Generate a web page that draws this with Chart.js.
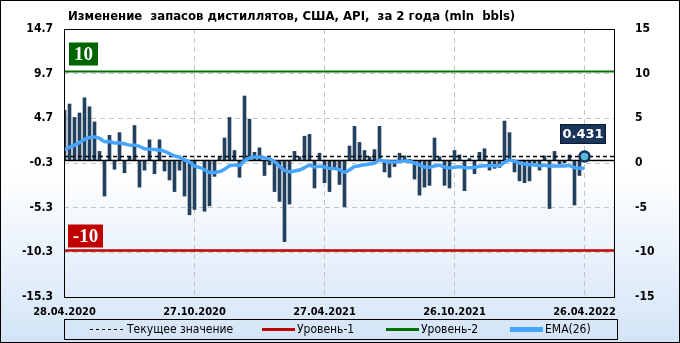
<!DOCTYPE html>
<html>
<head>
<meta charset="utf-8">
<script src="https://cdn.jsdelivr.net/npm/chart.js@4.4.1/dist/chart.umd.min.js"></script>
<style>
	html, body { margin: 0; padding: 0; background: #fff; }
</style>
</head>
<body>
<canvas id="distillates-chart" width="680" height="343"></canvas>
<script>
const titleText = 'Изменение  запасов дистиллятов, США, API,  за 2 года (mln  bbls)';

// weekly change, mln bbls, 28.04.2020 .. 26.04.2022
const distillates = [
	5.6, 6.3, 4.8, 5.3, 7.0, 6.0, 4.3, 1.0, -4.0, 2.8,
	-1.0, 3.1, -1.4, 0.4, 3.9, -3.0, -1.1, 2.3, -1.5, 2.3,
	-1.2, -2.2, -3.5, -1.1, -4.0, -6.1, -5.5, 0.0, -5.7, -5.1,
	-1.8, 0.4, 2.5, 4.8, 1.1, -1.9, 7.2, 4.6, 0.9, 1.4,
	-1.7, -0.5, -3.5, -4.6, -9.1, -4.9, 1.0, 0.4, 2.7, 2.9,
	-3.1, 0.8, -2.5, -3.5, -0.9, -2.7, -5.2, 1.6, 3.8, 2.0,
	1.1, 0.4, 1.2, 3.8, -1.3, -1.9, -0.7, 0.8, 0.5, 0.1,
	-2.1, -3.9, -3.0, -2.8, 2.5, 0.4, -2.8, -3.1, 1.1, 0.6,
	-3.4, 0.2, -1.5, 0.9, 1.3, -1.1, -0.9, -0.8, 4.4, 3.1,
	-1.3, -2.3, -2.5, -2.3, -0.3, -1.1, 0.5, -5.4, 1.0, -0.4,
	-0.3, 0.6, -5.0, -1.7, 0.431,
];

const ema26 = [
	1.2, 1.45, 1.7, 2.0, 2.35, 2.55, 2.6, 2.45, 2.1, 2.1,
	1.95, 1.95, 1.85, 1.7, 1.7, 1.55, 1.3, 1.25, 1.2, 1.15,
	1.0, 0.75, 0.5, 0.35, 0.05, -0.2, -0.65, -0.8, -1.05, -1.35,
	-1.35, -1.27, -1.0, -0.63, -0.52, -0.56, -0.07, 0.26, 0.37, 0.37,
	0.26, 0.15, -0.15, -0.67, -1.12, -1.27, -1.19, -1.08, -0.82, -0.56,
	-0.75, -0.67, -0.75, -0.9, -0.93, -1.04, -1.34, -1.08, -0.71, -0.6,
	-0.5, -0.42, -0.3, 0.0, -0.07, -0.19, -0.19, -0.11, -0.07, -0.11,
	-0.3, -0.52, -0.75, -0.78, -0.63, -0.56, -0.75, -0.86, -0.78, -0.71,
	-0.82, -0.82, -0.78, -0.67, -0.6, -0.6, -0.6, -0.6, -0.22, 0.0,
	-0.1, -0.3, -0.41, -0.49, -0.52, -0.6, -0.56, -0.63, -0.63, -0.63,
	-0.63, -0.6, -0.82, -0.9, -0.86,
];

const dateTickIndex = [0, 26, 52, 78, 104];
const dateLabels = ['28.04.2020', '27.10.2020', '27.04.2021', '26.10.2021', '26.04.2022'];

const leftTicks = [14.7, 9.7, 4.7, -0.3, -5.3, -10.3, -15.3];
const rightLabels = ['15', '10', '5', '0', '-5', '-10', '-15'];

const level1 = -10;
const level2 = 10;
const currentValue = distillates[distillates.length - 1];

const legendItems = [
	{ text: 'Текущее значение', color: '#000', width: 1, dash: [3, 3] },
	{ text: 'Уровень-1', color: '#c00000', width: 3, dash: [] },
	{ text: 'Уровень-2', color: '#007000', width: 3, dash: [] },
	{ text: 'EMA(26)', color: '#45a5ff', width: 5, dash: [] },
];

const tickFont = { family: "'DejaVu Sans Condensed', 'DejaVu Sans', sans-serif", size: 12, weight: 'bold' };
const gridColor = '#c4c4c4';

const decorPlugin = {
	id: 'decor',
	beforeDraw(chart) {
		const c = chart.ctx;
		const g = c.createLinearGradient(0, 0, 0, chart.height);
		g.addColorStop(0, '#ffffff');
		g.addColorStop(0.5, '#ffffff');
		g.addColorStop(1, '#d3e4f7');
		c.save();
		c.fillStyle = g;
		c.fillRect(0, 0, chart.width, chart.height);
		c.restore();
	},
	afterDatasetDraw(chart, args) {
		if (args.meta.type !== 'bar') {
			return;
		}
		const c = chart.ctx;
		const a = chart.chartArea;
		const y = chart.scales.y;

		const hline = (v, color, width, dash) => {
			const py = Math.round(y.getPixelForValue(v)) + 0.5;
			c.save();
			c.beginPath();
			c.strokeStyle = color;
			c.lineWidth = width;
			c.setLineDash(dash);
			c.moveTo(a.left, py);
			c.lineTo(a.right, py);
			c.stroke();
			c.restore();
			return py;
		};

		hline(0, '#000', 1.5, []);
		hline(currentValue, '#000', 1.5, [4, 3]);
		const py2 = hline(level2, '#007000', 2, []);
		const py1 = hline(level1, '#c00000', 2.5, []);

		const badge = (text, x, top, w, h, fill) => {
			c.save();
			c.fillStyle = fill;
			c.fillRect(x, top, w, h);
			c.fillStyle = '#fff';
			c.font = "bold 19px 'Liberation Serif', serif";
			c.textAlign = 'center';
			c.textBaseline = 'middle';
			c.fillText(text, x + w / 2, top + h / 2 + 1);
			c.restore();
		};
		badge(String(level2), a.left + 5, py2 - 29, 29, 23, '#006400');
		badge(String(level1), a.left + 4, py1 - 26, 35, 23, '#c00000');
	},
	afterDraw(chart) {
		const c = chart.ctx;
		const a = chart.chartArea;

		c.save();
		// plot frame
		c.strokeStyle = '#000';
		c.lineWidth = 1;
		c.strokeRect(Math.round(a.left) + 0.5, Math.round(a.top) + 0.5, Math.round(a.right - a.left), Math.round(a.bottom - a.top));
		// outer frame
		c.strokeRect(0.5, 0.5, chart.width - 1, chart.height - 1);

		// title
		c.fillStyle = '#000';
		c.font = "bold 13px 'Liberation Sans Narrow', 'DejaVu Sans Condensed', sans-serif";
		c.textBaseline = 'middle';
		c.textAlign = 'left';
		c.fillText(titleText, 68, 17);

		// value badge above the last point
		const px = chart.scales.x.getPixelForValue(distillates.length - 1);
		const py = chart.scales.y.getPixelForValue(currentValue);
		const bw = 46, bh = 20;
		const bx = Math.round(px - 25), by = Math.round(py - 32);
		c.fillStyle = '#1b365d';
		c.fillRect(bx, by, bw, bh);
		c.strokeStyle = '#0b1a30';
		c.strokeRect(bx + 0.5, by + 0.5, bw - 1, bh - 1);
		c.fillStyle = '#fff';
		c.font = "bold 13px 'DejaVu Sans', sans-serif";
		c.textAlign = 'center';
		c.fillText(currentValue.toFixed(3), bx + bw / 2, by + bh / 2 + 1);

		// legend
		c.strokeStyle = '#000';
		c.lineWidth = 1;
		c.strokeRect(64.5, 319.5, 553, 20);
		const starts = [90, 262, 386, 510];
		c.font = "12px 'DejaVu Sans Condensed', 'DejaVu Sans', sans-serif";
		c.textAlign = 'left';
		legendItems.forEach((it, i) => {
			const x = starts[i];
			c.beginPath();
			c.strokeStyle = it.color;
			c.lineWidth = it.width;
			c.setLineDash(it.dash);
			c.moveTo(x, 329.5);
			c.lineTo(x + 33, 329.5);
			c.stroke();
			c.setLineDash([]);
			c.fillStyle = '#000';
			c.fillText(it.text, x + (i === 0 ? 37 : 35), 330);
		});
		c.restore();
	},
};

new Chart(document.getElementById('distillates-chart'), {
	data: {
		datasets: [
			{
				type: 'scatter',
				data: [{ x: distillates.length - 1, y: currentValue }],
				pointRadius: 5,
				pointBackgroundColor: '#5cb8d8',
				pointBorderColor: '#13305a',
				pointBorderWidth: 2.5,
				order: 0,
			},
			{
				type: 'line',
				data: ema26.map((v, i) => ({ x: i, y: v })),
				borderColor: '#45a5ff',
				borderWidth: 3.5,
				pointRadius: 0,
				tension: 0.3,
				order: 1,
			},
			{
				type: 'bar',
				data: distillates.map((v, i) => ({ x: i, y: v })),
				backgroundColor: '#24405f',
				barThickness: 3,
				order: 2,
			},
		],
	},
	options: {
		responsive: false,
		animation: false,
		events: [],
		layout: {
			padding: { top: 29, left: 0, right: 0, bottom: 0 },
		},
		plugins: {
			legend: { display: false },
			tooltip: { enabled: false },
		},
		scales: {
			x: {
				type: 'linear',
				min: -0.1,
				max: 109.9,
				offset: false,
				afterBuildTicks: (s) => {
					s.ticks = dateTickIndex.map((v) => ({ value: v }));
				},
				afterFit: (s) => {
					s.height = 46;
				},
				ticks: {
					callback: (v) => dateLabels[dateTickIndex.indexOf(v)],
					autoSkip: false,
					maxRotation: 0,
					padding: 9,
					color: '#000',
					font: { ...tickFont, size: 11 },
				},
				grid: {
					offset: false,
					color: (ctx) => (ctx.index === 0 ? 'rgba(0,0,0,0)' : gridColor),
					drawTicks: false,
				},
				border: { display: false, dash: [5, 4] },
			},
			y: {
				position: 'left',
				min: -15.3,
				max: 14.7,
				afterBuildTicks: (s) => {
					s.ticks = leftTicks.slice().reverse().map((v) => ({ value: v }));
				},
				afterFit: (s) => {
					s.width = 64;
				},
				ticks: {
					callback: (v) => v.toFixed(1),
					padding: 11,
					color: '#000',
					font: tickFont,
				},
				grid: {
					color: gridColor,
					drawTicks: false,
				},
				border: { display: false, dash: [5, 4] },
			},
			y2: {
				position: 'right',
				min: -15.3,
				max: 14.7,
				afterBuildTicks: (s) => {
					s.ticks = leftTicks.slice().reverse().map((v) => ({ value: v }));
				},
				afterFit: (s) => {
					s.width = 66;
				},
				ticks: {
					callback: (v) => rightLabels[leftTicks.indexOf(v)],
					padding: 13,
					color: '#000',
					font: tickFont,
				},
				grid: { display: false },
				border: { display: false },
			},
		},
	},
	plugins: [decorPlugin],
});
</script>
</body>
</html>
